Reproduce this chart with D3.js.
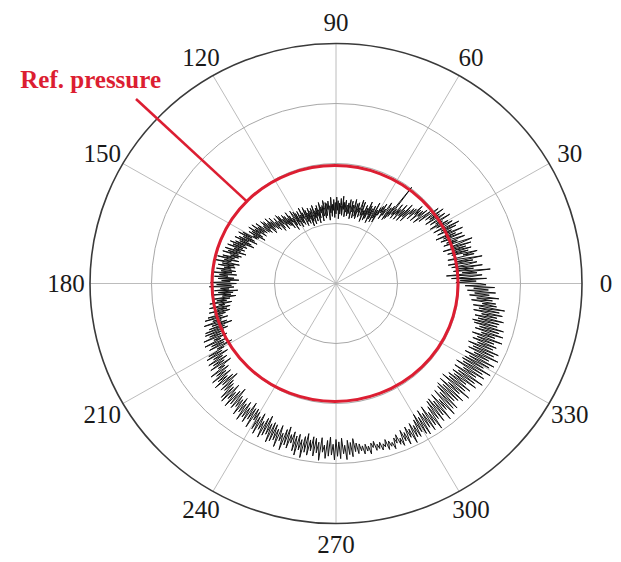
<!DOCTYPE html>
<html>
<head>
<meta charset="utf-8">
<script src="https://cdn.jsdelivr.net/npm/d3@7"></script>
<style>
  body { margin: 0; background: #fff; }
  svg { display: block; font-family: "Liberation Serif", "Times New Roman", serif; }
</style>
</head>
<body>
<div id="polar-chart"></div>
<script>
// radial grid rings (arbitrary pressure units, outer ring = 4)
const rings = [1, 2, 3, 4];
const spokeAngles = [0, 30, 60, 90, 120, 150, 180, 210, 240, 270, 300, 330];
const tickLabels = ["0", "30", "60", "90", "120", "150", "180", "210", "240", "270", "300", "330"];
const refPressure = 2.0;
const refLabel = "Ref. pressure";

// measured pressure, one reading every half degree, 0..359.5
const pressure = [
  2.34, 1.95, 2.28, 2.02, 2.45, 1.88, 2.20, 2.38, 1.80, 2.30, 2.06, 2.52, 1.92, 2.25, 2.00,
  2.40, 1.90, 2.18, 2.32, 1.85, 2.26, 1.98, 2.42, 2.04, 1.86, 2.30, 2.12, 2.36, 1.94, 2.22,
  1.88, 2.28, 2.00, 2.20, 1.82, 2.30, 1.96, 2.14, 2.34, 1.86, 2.10, 1.92, 2.24, 2.02, 1.84,
  2.22, 1.90, 2.12, 1.78, 2.26, 1.96, 2.08, 1.84, 2.18, 1.92, 2.25, 1.80, 2.05, 2.16, 1.88,
  2.10, 1.78, 2.02, 1.90, 2.18, 1.82, 1.98, 2.12, 1.76, 2.04, 1.86, 2.14, 1.80, 1.96, 2.08,
  1.70, 1.95, 1.78, 1.62, 1.92, 1.74, 1.86, 1.60, 1.84, 1.72, 1.90, 1.58, 1.80, 1.66, 1.78,
  1.48, 1.72, 1.55, 1.80, 1.44, 1.66, 1.52, 1.74, 1.42, 1.62, 1.50, 1.70, 1.40, 1.58, 1.46,
  2.02, 1.40, 1.60, 1.34, 1.55, 1.30, 1.52, 1.62, 1.36, 1.48, 1.28, 1.56, 1.38, 1.50, 1.32,
  1.46, 1.18, 1.40, 1.24, 1.52, 1.16, 1.34, 1.44, 1.20, 1.38, 1.12, 1.42, 1.26, 1.48, 1.18,
  1.36, 1.14, 1.40, 1.22, 1.30, 1.10, 1.44, 1.20, 1.34, 1.46, 1.16, 1.32, 1.24, 1.40, 1.12,
  1.38, 1.16, 1.30, 1.44, 1.12, 1.34, 1.22, 1.40, 1.10, 1.28, 1.42, 1.18, 1.36, 1.14, 1.32,
  1.20, 1.40, 1.12, 1.36, 1.24, 1.46, 1.14, 1.30, 1.42, 1.16, 1.34, 1.08, 1.38, 1.22, 1.44,
  1.16, 1.35, 1.10, 1.40, 1.22, 1.32, 1.12, 1.44, 1.18, 1.30, 1.06, 1.38, 1.24, 1.34, 1.14,
  1.36, 1.10, 1.28, 1.40, 1.14, 1.32, 1.06, 1.30, 1.20, 1.38, 1.12, 1.26, 1.04, 1.34, 1.16,
  1.30, 1.08, 1.26, 1.14, 1.36, 1.04, 1.24, 1.32, 1.10, 1.28, 1.02, 1.34, 1.16, 1.26, 1.08,
  1.32, 1.12, 1.38, 1.18, 1.06, 1.30, 1.20, 1.40, 1.10, 1.28, 1.14, 1.36, 1.22, 1.08, 1.34,
  1.18, 1.38, 1.12, 1.32, 1.42, 1.16, 1.30, 1.08, 1.36, 1.24, 1.44, 1.14, 1.34, 1.20, 1.40,
  1.22, 1.44, 1.26, 1.38, 1.18, 1.46, 1.30, 1.50, 1.24, 1.40, 1.20, 1.48, 1.32, 1.42, 1.26,
  1.54, 1.30, 1.48, 1.36, 1.58, 1.32, 1.50, 1.28, 1.56, 1.40, 1.60, 1.34, 1.52, 1.38, 1.46,
  1.64, 1.40, 1.58, 1.44, 1.68, 1.38, 1.60, 1.48, 1.70, 1.42, 1.62, 1.36, 1.66, 1.46, 1.56,
  1.48, 1.74, 1.56, 1.80, 1.50, 1.70, 1.44, 1.76, 1.58, 1.82, 1.52, 1.72, 1.46, 1.78, 1.60,
  1.86, 1.56, 1.80, 1.62, 1.88, 1.58, 1.76, 1.64, 1.90, 1.54, 1.84, 1.66, 1.92, 1.60, 1.78,
  1.64, 1.90, 1.70, 1.98, 1.62, 1.86, 1.74, 2.00, 1.60, 1.88, 1.68, 1.94, 1.66, 1.84, 1.72,
  1.96, 1.64, 1.88, 1.70, 2.02, 1.62, 1.90, 1.76, 1.98, 1.66, 1.92, 1.58, 1.86, 1.72, 2.04,
  1.62, 1.94, 1.70, 2.06, 1.66, 1.88, 1.74, 1.98, 1.60, 1.92, 1.68, 2.00, 1.72, 1.86, 1.64,
  2.02, 1.74, 1.96, 1.80, 2.08, 1.72, 1.94, 1.84, 2.10, 1.76, 1.98, 1.82, 2.12, 1.78, 2.04,
  1.86, 2.16, 1.92, 2.22, 1.84, 2.10, 1.96, 2.26, 1.88, 2.14, 1.80, 2.20, 1.94, 2.28, 1.90,
  2.30, 1.98, 2.24, 2.04, 2.36, 1.96, 2.20, 2.08, 2.38, 2.00, 2.28, 2.06, 2.34, 1.94, 2.22,
  2.10, 2.40, 2.16, 2.46, 2.08, 2.36, 2.20, 2.48, 2.14, 2.42, 2.22, 2.50, 2.12, 2.38, 2.26,
  2.56, 2.22, 2.48, 2.30, 2.60, 2.24, 2.52, 2.34, 2.62, 2.26, 2.50, 2.20, 2.58, 2.32, 2.54,
  2.36, 2.66, 2.40, 2.70, 2.32, 2.60, 2.44, 2.72, 2.38, 2.64, 2.30, 2.68, 2.42, 2.62, 2.46,
  2.74, 2.40, 2.66, 2.48, 2.78, 2.42, 2.70, 2.50, 2.76, 2.38, 2.68, 2.46, 2.80, 2.44, 2.64,
  2.48, 2.78, 2.54, 2.84, 2.46, 2.74, 2.58, 2.86, 2.50, 2.80, 2.44, 2.76, 2.56, 2.88, 2.52,
  2.84, 2.54, 2.80, 2.60, 2.90, 2.52, 2.78, 2.64, 2.92, 2.56, 2.82, 2.50, 2.86, 2.62, 2.76,
  2.56, 2.88, 2.62, 2.94, 2.58, 2.84, 2.66, 2.96, 2.60, 2.86, 2.54, 2.90, 2.64, 2.82, 2.58,
  2.90, 2.60, 2.84, 2.66, 2.96, 2.58, 2.82, 2.70, 2.92, 2.62, 2.88, 2.56, 2.86, 2.68, 2.94,
  2.60, 2.88, 2.64, 2.92, 2.58, 2.84, 2.70, 2.94, 2.62, 2.86, 2.66, 2.90, 2.60, 2.82, 2.68,
  2.86, 2.70, 2.82, 2.74, 2.88, 2.72, 2.84, 2.76, 2.90, 2.72, 2.80, 2.70, 2.86, 2.76, 2.84,
  2.74, 2.88, 2.78, 2.84, 2.72, 2.90, 2.76, 2.86, 2.80, 2.92, 2.74, 2.84, 2.70, 2.88, 2.78,
  2.92, 2.66, 2.86, 2.72, 2.94, 2.64, 2.84, 2.70, 2.96, 2.62, 2.88, 2.68, 2.90, 2.60, 2.84,
  2.52, 2.90, 2.60, 2.94, 2.50, 2.84, 2.58, 2.92, 2.48, 2.86, 2.62, 2.96, 2.54, 2.80, 2.46,
  2.88, 2.44, 2.80, 2.52, 2.92, 2.42, 2.76, 2.56, 2.90, 2.40, 2.82, 2.48, 2.86, 2.38, 2.74,
  2.34, 2.78, 2.42, 2.84, 2.32, 2.72, 2.46, 2.88, 2.30, 2.76, 2.40, 2.82, 2.36, 2.70, 2.44,
  2.86, 2.38, 2.80, 2.46, 2.92, 2.36, 2.76, 2.50, 2.88, 2.34, 2.82, 2.44, 2.94, 2.40, 2.78,
  2.42, 2.86, 2.48, 2.92, 2.38, 2.80, 2.52, 2.94, 2.40, 2.84, 2.46, 2.90, 2.36, 2.78, 2.50,
  2.82, 2.40, 2.76, 2.46, 2.88, 2.36, 2.74, 2.50, 2.86, 2.38, 2.78, 2.44, 2.84, 2.34, 2.72,
  2.30, 2.74, 2.38, 2.80, 2.32, 2.68, 2.42, 2.76, 2.28, 2.70, 2.36, 2.78, 2.26, 2.64, 2.40,
  2.62, 2.22, 2.56, 2.30, 2.66, 2.18, 2.50, 2.26, 2.60, 2.14, 2.48, 2.24, 2.58, 2.10, 2.44
];
const angles = d3.range(0, 360, 360 / pressure.length);

const width = 621, height = 562;
const cx = 336, cy = 283.5;

// the source figure is slightly squashed vertically
const rX = d3.scaleLinear().domain([0, 4]).range([0, 246]);
const rY = d3.scaleLinear().domain([0, 4]).range([0, 240]);
const rad = d => d * Math.PI / 180;
const px = (deg, v) => cx + rX(v) * Math.cos(rad(deg));
const py = (deg, v) => cy - rY(v) * Math.sin(rad(deg));

const svg = d3.select("#polar-chart")
  .append("svg")
  .attr("width", width)
  .attr("height", height);

svg.append("rect")
  .attr("width", width)
  .attr("height", height)
  .attr("fill", "#fff");

// spokes
svg.append("g")
  .selectAll("line")
  .data(spokeAngles)
  .enter()
  .append("line")
  .attr("x1", cx)
  .attr("y1", cy)
  .attr("x2", d => px(d, 4))
  .attr("y2", d => py(d, 4))
  .attr("stroke", "#b4b4b4")
  .attr("stroke-width", 0.9);

// rings
svg.append("g")
  .selectAll("ellipse")
  .data(rings)
  .enter()
  .append("ellipse")
  .attr("cx", cx)
  .attr("cy", cy)
  .attr("rx", d => rX(d))
  .attr("ry", d => rY(d))
  .attr("fill", "none")
  .attr("stroke", d => d === 4 ? "#3a3a3a" : "#a8a8a8")
  .attr("stroke-width", d => d === 4 ? 1.6 : 1);

// angle labels
svg.append("g")
  .selectAll("text")
  .data(spokeAngles)
  .enter()
  .append("text")
  .attr("x", d => cx + (rX(4) + 24) * Math.cos(rad(d)))
  .attr("y", d => cy - (rY(4) + 21) * Math.sin(rad(d)))
  .attr("dy", "0.34em")
  .attr("text-anchor", "middle")
  .attr("font-size", 25)
  .attr("fill", "#1a1a1a")
  .text((d, i) => tickLabels[i]);

// measured trace
const line = d3.line()
  .x((d, i) => px(angles[i], d))
  .y((d, i) => py(angles[i], d))
  .curve(d3.curveLinearClosed);

svg.append("path")
  .datum(pressure)
  .attr("d", line)
  .attr("fill", "none")
  .attr("stroke", "#111")
  .attr("stroke-width", 1)
  .attr("stroke-linejoin", "round");

// reference pressure circle
svg.append("ellipse")
  .attr("cx", cx - 1)
  .attr("cy", cy)
  .attr("rx", rX(refPressure))
  .attr("ry", rY(refPressure) - 2)
  .attr("fill", "none")
  .attr("stroke", "#dc1e32")
  .attr("stroke-width", 3);

// annotation
svg.append("line")
  .attr("x1", 136)
  .attr("y1", 99)
  .attr("x2", px(136, refPressure) - 1)
  .attr("y2", py(136, refPressure) + 1)
  .attr("stroke", "#dc1e32")
  .attr("stroke-width", 2.6);

svg.append("text")
  .attr("x", 161)
  .attr("y", 88)
  .attr("text-anchor", "end")
  .attr("font-size", 25)
  .attr("font-weight", "bold")
  .attr("fill", "#dc1e32")
  .text(refLabel);
</script>
</body>
</html>
